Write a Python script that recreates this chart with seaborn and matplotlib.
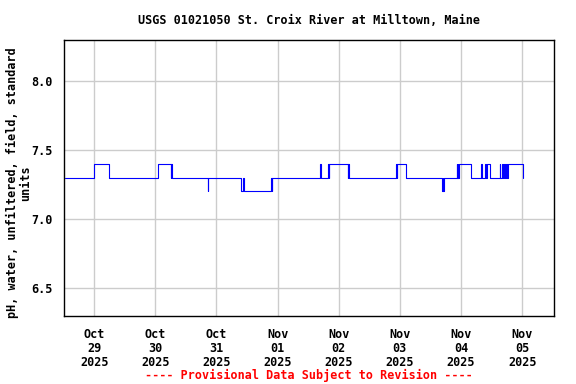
import pandas as pd
import matplotlib
matplotlib.use("Agg")
import matplotlib.pyplot as plt
import seaborn as sns

# change points of the pH record (value holds until next time)
times = [
    "2025-10-28 12:30", "2025-10-28 23:45", "2025-10-29 06:00",
    "2025-10-30 01:15", "2025-10-30 06:00", "2025-10-30 06:15", "2025-10-30 06:30",
    "2025-10-30 20:30", "2025-10-30 20:45",
    "2025-10-31 09:45", "2025-10-31 10:30", "2025-10-31 10:45",
    "2025-10-31 21:30", "2025-10-31 21:45", "2025-10-31 22:00",
    "2025-11-01 16:45", "2025-11-01 17:00",
    "2025-11-01 19:45", "2025-11-01 20:00", "2025-11-01 20:15",
    "2025-11-02 03:30", "2025-11-02 03:45", "2025-11-02 04:00",
    "2025-11-02 22:30", "2025-11-02 22:45", "2025-11-02 23:00",
    "2025-11-03 02:15",
    "2025-11-03 16:30", "2025-11-03 16:45", "2025-11-03 17:00", "2025-11-03 17:15",
    "2025-11-03 22:15", "2025-11-03 22:30", "2025-11-03 22:45", "2025-11-03 23:00",
    "2025-11-03 23:15",
    "2025-11-04 03:45",
    "2025-11-04 08:00", "2025-11-04 08:15",
    "2025-11-04 09:30", "2025-11-04 10:00", "2025-11-04 10:15", "2025-11-04 11:30",
    "2025-11-04 15:15", "2025-11-04 15:30", "2025-11-04 16:15", "2025-11-04 16:30",
    "2025-11-04 17:00", "2025-11-04 17:15", "2025-11-04 17:45", "2025-11-04 18:00",
    "2025-11-04 18:15",
    "2025-11-05 00:15",
]
ph = [
    7.3, 7.4, 7.3,
    7.4, 7.3, 7.4, 7.3,
    7.2, 7.3,
    7.2, 7.3, 7.2,
    7.3, 7.2, 7.3,
    7.4, 7.3,
    7.4, 7.3, 7.4,
    7.3, 7.4, 7.3,
    7.4, 7.3, 7.4,
    7.3,
    7.2, 7.3, 7.2, 7.3,
    7.4, 7.3, 7.4, 7.3,
    7.4,
    7.3,
    7.4, 7.3,
    7.4, 7.3, 7.4, 7.3,
    7.4, 7.3, 7.4, 7.3,
    7.4, 7.3, 7.4, 7.3,
    7.4,
    7.3,
]
tick_days = ["2025-10-29", "2025-10-30", "2025-10-31", "2025-11-01",
             "2025-11-02", "2025-11-03", "2025-11-04", "2025-11-05"]
y_ticks = [6.5, 7.0, 7.5, 8.0]

df = pd.DataFrame({"time": pd.to_datetime(times), "ph": ph})

sns.set_style("white")
plt.rcParams["font.family"] = ["DejaVu Sans Mono"]
plt.rcParams["font.weight"] = "bold"
plt.rcParams["text.color"] = "black"
fs = 8.5

fig, ax = plt.subplots(figsize=(5.76, 3.84), dpi=100)
fig.subplots_adjust(left=64 / 576, right=554 / 576, top=1 - 39.5 / 384, bottom=1 - 315.5 / 384)

sns.lineplot(data=df, x="time", y="ph", ax=ax, color="#0000ff", linewidth=0.8,
             drawstyle="steps-post", estimator=None, sort=False)

ax.set_xlim(pd.Timestamp("2025-10-28 12:10"), pd.Timestamp("2025-11-05 12:30"))
ax.set_ylim(6.3, 8.3)

ticks = pd.to_datetime(tick_days)
ax.set_xticks(ticks)
ax.set_xticklabels([t.strftime("%b\n%d\n%Y") for t in ticks], fontsize=fs, fontweight="bold",
                   linespacing=1.1)
ax.set_yticks(y_ticks)
ax.set_yticklabels([f"{v:.1f}" for v in y_ticks], fontsize=fs, fontweight="bold")
ax.tick_params(axis="both", length=0, colors="black")
ax.tick_params(axis="x", pad=9)
ax.tick_params(axis="y", pad=8)

ax.grid(True, color="#cccccc", linewidth=1)
for s in ax.spines.values():
    s.set_color("black")
    s.set_linewidth(1)

ax.set_xlabel("")
ax.set_ylabel("")
fig.text(19 / 576, 1 - 183 / 384, "pH, water, unfiltered, field, standard\nunits",
         fontsize=fs, fontweight="bold", rotation=90, ha="center", va="center",
         linespacing=1.1, multialignment="center")

ax.set_title("USGS 01021050 St. Croix River at Milltown, Maine", fontsize=fs,
             fontweight="bold", pad=11)
fig.text(309 / 576, 1 - 375 / 384, "---- Provisional Data Subject to Revision ----",
         color="red", fontsize=fs, fontweight="bold", ha="center", va="center")

fig.savefig("out.png", dpi=100)
